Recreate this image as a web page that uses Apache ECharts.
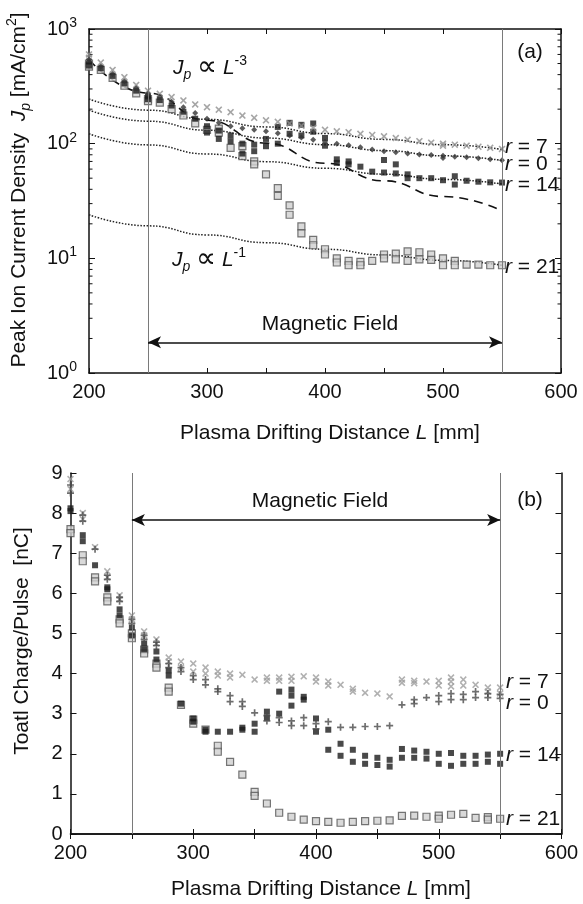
<!DOCTYPE html>
<html>
<head>
<meta charset="utf-8">
<script src="https://cdn.jsdelivr.net/npm/echarts@6/dist/echarts.min.js"></script>
<style>
  html, body { margin: 0; padding: 0; background: #fff; }
  #chart { width: 583px; height: 904px; }
</style>
</head>
<body>
<div id="chart"></div>
<script>
// Drift distances of the probe positions [mm]
const distance = [200,210,220,230,240,250,260,270,280,290,300,310,320,330,340,350,360,370,380,390,
                  400,410,420,430,440,450,460,470,480,490,500,510,520,530,540,550];

// (a) Peak ion current density Jp [mA/cm2], repeated shots per distance
const jpR7 = [[600,560],[510],[440],[380],[325],[290],[272],[255],[238],[220],[208],[198],[188],[176],[168],[160],[155],[150],[143],[137],
              [132],[128],[126],[122],[119],[116],[112],[108],[105],[102],[100,96],[98],[96],[94],[92],[90]];
const jpR0 = [[540],[470],[405],[350],[305],[272],[255],[232],[208],[185],[165],[152],[142],[136],[132],[128],[123],[118],[113],[108],
              [104],[100],[97],[93],[89],[86],[84],[82],[80.5],[79.5],[78.5,75],[77],[76],[74.5],[73],[71.5]];
const jpR14 = [[520,480],[455],[390],[335],[290],[258,245],[240],[215],[190],[165],[142,125],[130,110],[118,105],[100,82],[98,86],[110,95],[140,100],[152,122],[146,118],[150,127],
               [112,96],[73,68],[70,66],[63],[57],[72,56],[66,55],[54,50],[50],[50],[48],[52,44],[47.5],[46.6],[46],[45.8]];
const jpR21 = [[500,470],[440],[375],[320],[275],[245,235],[228],[200],[176],[150],[132],[135,125],[92],[95,78],[70,66],[54],[41,35],[29,24],[19,16.5],[14.5,13],
               [12,10.8],[10,9.2],[9.5,8.7],[9.3,8.7],[9.5],[10.8,10],[11,9.8],[11.5,9.5],[11.3,9.8],[10.8,9.7],[10,8.7],[9.5,8.7],[8.8],[8.8],[8.7],[8.7]];

// (a) power-law guide curves
const fitDistance = [200,250,300,350,400,450,500,550];
const fitCubic = [540,276,160,101,67.5,47.4,34.6,26];
const fitR7 = [245,196,163,140,122.5,109,98,89];
const fitR0 = [196,157,131,112,98,87,78.4,71.3];
const fitR14 = [122,97.6,81.3,69.7,61,54.2,48.8,44.4];
const fitR21 = [24,19.2,16,13.7,12,10.7,9.6,8.7];

// (b) Total charge per pulse [nC]
const qR7 = [[8.85,8.6],[8.0,7.85],[7.15],[6.55,6.4],[5.95,5.85],[5.45,5.35],[5.05,4.95],[4.85,4.75],[4.4,4.3],[4.3,4.15],
             [4.25,4.05],[4.15,4.0],[4.05,3.95],[4.0,3.9],[3.97],[3.85],[3.9,3.82],[3.9,3.82],[3.92,3.82],[3.93],
             [3.9,3.8],[3.8,3.7],[3.72],[3.62,3.55],[3.52],[3.5],[3.43],[3.85,3.77],[3.82,3.76],[3.8],
             [3.82,3.7],[3.9,3.8,3.68],[3.85,3.7],[3.72],[3.65,3.55],[3.65,3.5]];
const qR0 = [[8.7,8.5],[7.95,7.8],[7.1],[6.45,6.35],[5.9,5.8],[5.35,5.25],[4.95,4.85],[4.78,4.7],[4.25,4.15],[4.15,4.05],
             [3.95,3.85],[3.85,3.72],[3.62,3.55],[3.45,3.3],[3.3,3.18],[3.02],[2.95,2.82],[2.9,2.78],[2.82,2.7],[2.9,2.7],
             [2.75,2.62],[2.8],[2.66],[2.66],[2.68],[2.68],[2.7],[3.22],[3.35,3.25],[3.4],
             [3.45,3.3],[3.5,3.35],[3.48,3.35],[3.55,3.4],[3.5,3.4],[3.48,3.38]];
const qR14 = [[8.12,8.05],[7.45,7.3],[6.7],[6.15,6.1],[5.6,5.45],[5.15,4.95],[4.75,4.6],[4.55,4.35],[4.08,3.95],[3.25],
              [2.88,2.8],[2.6,2.55],[2.55],[2.55],[2.65,2.6],[2.75,2.55],[3.05,2.9],[3.55,3.0],[3.6,3.45,3.2],[3.42,3.35],
              [2.88,2.55],[2.6,2.1],[2.25,1.95],[2.1,1.8],[1.95,1.75],[1.9,1.72],[1.85,1.68],[2.12,1.9],[2.08,1.9],[2.05,1.88],
              [2.0,1.75],[2.02,1.7],[1.95,1.75],[1.95,1.75],[1.98,1.8],[2.0,1.75]];
const qR21 = [[7.6,7.5],[6.95,6.8],[6.4,6.3],[5.9,5.8],[5.35,5.25],[5.0,4.88],[4.6,4.5],[4.25,4.15],[3.65,3.55],[3.22],
              [2.85,2.75],[2.6],[2.2,2.05],[1.8],[1.48],[1.05,0.95],[0.76],[0.53],[0.43],[0.36],
              [0.32],[0.3],[0.28],[0.3],[0.32],[0.33],[0.34],[0.45],[0.46],[0.43],
              [0.46,0.38],[0.48],[0.5],[0.4],[0.42,0.36],[0.38]];

// Axis ticks and region markers
const distanceTicks = [200,300,400,500,600];
const logMinorTicks = [2,3,4,5,6,7,8,9,20,30,40,50,60,70,80,90,200,300,400,500,600,700,800,900];
const fieldEdges = [250,550];
const fieldArrowJp = 1.85;
const fieldArrowQ = 7.83;

const FONT = '"Liberation Sans", Arial, Helvetica, sans-serif';
const INK = '#111';

function points(values) {
  const out = [];
  values.forEach((vals, i) => vals.forEach(v => out.push([distance[i], v])));
  return out;
}
function fitPoints(values) { return values.map((v, i) => [fitDistance[i], v]); }

const crossSymbol = 'path://M0,1.6L1.6,0L5,3.4L8.4,0L10,1.6L6.6,5L10,8.4L8.4,10L5,6.6L1.6,10L0,8.4L3.4,5Z';
const plusSymbol = 'path://M3.8,0H6.2V3.8H10V6.2H6.2V10H3.8V6.2H0V3.8H3.8Z';

function xAxes(grid) {
  const base = {
    gridIndex: grid, type: 'value', min: 200, max: 600, interval: 50,
    axisLine: { lineStyle: { color: INK, width: 1.5 } },
    axisTick: { inside: true, length: 5, lineStyle: { color: INK, width: 1 } },
    splitLine: { show: false }
  };
  return [
    Object.assign({}, base, {
      position: 'bottom',
      axisLabel: {
        fontSize: 20, fontFamily: FONT, color: INK, margin: 9,
        formatter: v => distanceTicks.includes(v) ? String(v) : ''
      }
    }),
    Object.assign({}, base, { position: 'top', axisLabel: { show: false } })
  ];
}

function yAxisBase(grid) {
  return {
    gridIndex: grid,
    axisLine: { show: true, lineStyle: { color: INK, width: 1.5 } },
    axisTick: { show: true, inside: true, length: 6, lineStyle: { color: INK, width: 1 } },
    splitLine: { show: false }
  };
}

const chart = echarts.init(document.getElementById('chart'), null, { renderer: 'canvas' });

const richText = {
  t: { fontSize: 21, fontFamily: FONT, fill: INK, color: INK, lineHeight: 28 },
  i: { fontSize: 21, fontFamily: FONT, fontStyle: 'italic', fill: INK, color: INK, lineHeight: 28 },
  p: { fontSize: 28, fontFamily: '"DejaVu Sans", sans-serif', fill: INK, color: INK, lineHeight: 28 },
  sub: { fontSize: 14, fontFamily: FONT, fontStyle: 'italic', fill: INK, color: INK, lineHeight: 14, verticalAlign: 'bottom' },
  sup: { fontSize: 14, fontFamily: FONT, fill: INK, color: INK, lineHeight: 14, verticalAlign: 'top' }
};

function textItem(x, y, text, extra) {
  return Object.assign({
    type: 'text', x: x, y: y, silent: true, z: 100,
    style: {
      text: text, rich: richText, font: '21px ' + FONT, fill: INK,
      align: 'center', verticalAlign: 'middle', textAlign: 'center', textVerticalAlign: 'middle'
    }
  }, extra || {});
}
function leftText(x, y, text) {
  const item = textItem(x, y, text);
  item.style.align = 'left'; item.style.textAlign = 'left';
  return item;
}

const markerStyles = {
  r7: { symbol: crossSymbol, symbolSize: 7, itemStyle: { color: '#8e8e8e' } },
  r14: { symbol: 'rect', symbolSize: 6, itemStyle: { color: '#1c1c1c' } },
  r21: { symbol: 'rect', symbolSize: 7, itemStyle: { color: '#cfcfcf', borderColor: '#555', borderWidth: 1.2 } }
};

function scatter(name, data, axis, style, extra) {
  return Object.assign({
    name: name, type: 'scatter', xAxisIndex: axis, yAxisIndex: axis, data: data, z: 3,
    animation: false, silent: true
  }, style, extra || {});
}

function fitLine(values, dashed) {
  return {
    type: 'line', xAxisIndex: 0, yAxisIndex: 0, data: fitPoints(values), smooth: true, smoothMonotone: 'x',
    showSymbol: false, symbol: 'none', silent: true, animation: false, z: 2,
    lineStyle: dashed ? { color: '#111', width: 1.6, type: [9, 6] } : { color: '#222', width: 1.5, type: [1.5, 1.6] }
  };
}

const edgeLines = {
  silent: true, symbol: 'none', label: { show: false }, animation: false,
  lineStyle: { color: '#7a7a7a', width: 1, type: 'solid' },
  data: fieldEdges.map(v => ({ xAxis: v }))
};
function fieldArrow(y) {
  return {
    silent: true, symbol: ['arrow', 'arrow'], symbolSize: [9, 13],
    label: { show: false }, animation: false,
    lineStyle: { color: INK, width: 1.5, type: 'solid' },
    data: [[{ coord: [fieldEdges[0], y] }, { coord: [fieldEdges[1], y] }]]
  };
}

const option = {
  animation: false,
  backgroundColor: '#fff',
  grid: [
    { left: 89, top: 29, width: 472, height: 344 },
    { left: 70.5, top: 473, width: 491, height: 361 }
  ],
  xAxis: xAxes(0).concat(xAxes(1)),
  yAxis: [
    Object.assign(yAxisBase(0), {
      type: 'log', logBase: 10, min: 1, max: 1000, position: 'left',
      axisLabel: {
        margin: 12, color: INK,
        formatter: v => '{b|10}{s|' + Math.round(Math.log10(v)) + '}',
        rich: {
          b: { fontSize: 20, fontFamily: FONT, color: INK, lineHeight: 26 },
          s: { fontSize: 14, fontFamily: FONT, color: INK, lineHeight: 14, verticalAlign: 'top' }
        }
      }
    }),
    Object.assign(yAxisBase(0), { type: 'log', logBase: 10, min: 1, max: 1000, position: 'right', axisLabel: { show: false } }),
    Object.assign(yAxisBase(1), {
      type: 'value', min: 0, max: 9, interval: 1, position: 'left',
      axisLabel: { fontSize: 20, fontFamily: FONT, color: INK, margin: 8 }
    }),
    Object.assign(yAxisBase(1), { type: 'value', min: 0, max: 9, interval: 1, position: 'right', axisLabel: { show: false } })
  ],
  series: [
    // minor decade ticks of the log axis, drawn on both vertical frame edges
    {
      type: 'custom', xAxisIndex: 0, yAxisIndex: 0, silent: true, clip: false, animation: false,
      data: logMinorTicks.map(v => [200, v]),
      renderItem: function (params, api) {
        const v = api.value(1);
        const pL = api.coord([200, v]);
        const pR = api.coord([600, v]);
        const st = { stroke: INK, lineWidth: 1 };
        return {
          type: 'group', children: [
            { type: 'line', shape: { x1: pL[0], y1: pL[1], x2: pL[0] + 3.5, y2: pL[1] }, style: st },
            { type: 'line', shape: { x1: pR[0] - 3.5, y1: pR[1], x2: pR[0], y2: pR[1] }, style: st }
          ]
        };
      }
    },
    fitLine(fitCubic, true),
    fitLine(fitR7, false),
    fitLine(fitR0, false),
    fitLine(fitR14, false),
    fitLine(fitR21, false),
    scatter('r = 21', points(jpR21), 0, markerStyles.r21, { markLine: edgeLines }),
    scatter('r = 14', points(jpR14), 0, markerStyles.r14, { markLine: fieldArrow(fieldArrowJp) }),
    scatter('r = 7', points(jpR7), 0, markerStyles.r7),
    scatter('r = 0', points(jpR0), 0, { symbol: 'diamond', symbolSize: 6, itemStyle: { color: '#333' } }),

    scatter('r = 21', points(qR21), 2, markerStyles.r21, { markLine: edgeLines }),
    scatter('r = 14', points(qR14), 2, markerStyles.r14, { markLine: fieldArrow(fieldArrowQ) }),
    scatter('r = 7', points(qR7), 2, Object.assign({}, markerStyles.r7, { itemStyle: { color: '#9c9c9c' } })),
    scatter('r = 0', points(qR0), 2, { symbol: plusSymbol, symbolSize: 7, itemStyle: { color: '#4a4a4a' } })
  ],
  graphic: [
    textItem(19, 190, '{t|Peak Ion Current Density  }{i|J}{sub|p}{t| [mA/cm}{sup|2}{t|]}', { rotation: Math.PI / 2 }),
    textItem(22, 641, '{t|Toatl Charge/Pulse  [nC]}', { rotation: Math.PI / 2 }),
    textItem(330, 433, '{t|Plasma Drifting Distance }{i|L}{t| [mm]}'),
    textItem(321, 889, '{t|Plasma Drifting Distance }{i|L}{t| [mm]}'),
    textItem(530, 52, '{t|(a)}'),
    textItem(530, 500, '{t|(b)}'),
    textItem(210, 68, '{i|J}{sub|p}{t| }{p|∝}{t| }{i|L}{sup|-3}'),
    textItem(209, 260, '{i|J}{sub|p}{t| }{p|∝}{t| }{i|L}{sup|-1}'),
    textItem(330, 324, '{t|Magnetic Field}'),
    textItem(320, 501, '{t|Magnetic Field}'),
    leftText(505, 147, '{i|r}{t| = 7}'),
    leftText(505, 164, '{i|r}{t| = 0}'),
    leftText(505, 185, '{i|r}{t| = 14}'),
    leftText(505, 267, '{i|r}{t| = 21}'),
    leftText(506, 682, '{i|r}{t| = 7}'),
    leftText(506, 703, '{i|r}{t| = 0}'),
    leftText(506, 755, '{i|r}{t| = 14}'),
    leftText(506, 819, '{i|r}{t| = 21}')
  ]
};

chart.setOption(option);
</script>
</body>
</html>
